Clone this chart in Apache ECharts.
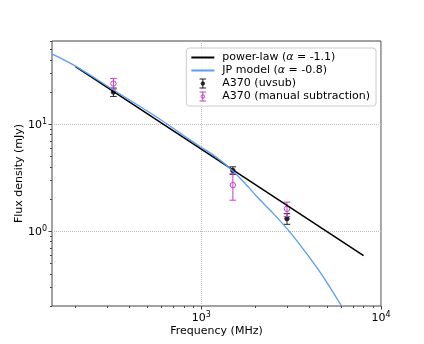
<!DOCTYPE html>
<html>
<head>
<meta charset="utf-8">
<script src="https://cdn.jsdelivr.net/npm/echarts@6/dist/echarts.min.js"></script>
<style>
html, body { margin: 0; padding: 0; background: #fff; }
#chart { width: 424px; height: 344px; }
</style>
</head>
<body>
<div id="chart"></div>
<script>
// measured points (MHz, mJy)
var freq = [325, 1500, 3000];
var uvsubFlux = [20.0, 3.7, 1.31];
var uvsubErr = [1.8, 0.3, 0.15];
var manualFlux = [24.0, 2.7, 1.62];
var manualErr = [2.7, 0.75, 0.25];

// fitted power law
var powerLawFreq = [200, 8000];
var powerLawFlux = [34.5, 0.59];

// JP model curve
var jpFreq = [148, 199, 324, 519, 643, 794, 984, 1218, 1506, 1865, 2032, 2512, 3043, 3851, 4763, 6030];
var jpFlux = [45.5, 35.1, 21.0, 12.8, 10.1, 7.9, 6.2, 4.9, 3.63, 2.5, 2.12, 1.47, 1.03, 0.62, 0.376, 0.2];

var xMajor = [1000, 10000];
var xMinor = [200, 300, 400, 500, 600, 700, 800, 900, 2000, 3000, 4000, 5000, 6000, 7000, 8000, 9000];
var yMajor = [1, 10];
var yMinor = [0.2, 0.3, 0.4, 0.5, 0.6, 0.7, 0.8, 0.9, 2, 3, 4, 5, 6, 7, 8, 9, 20, 30, 40, 50, 60];

var plName = 'power-law (α = -1.1)';
var jpName = 'JP model (α = -0.8)';
var uvName = 'A370 (uvsub)';
var manName = 'A370 (manual subtraction)';

var FONT = 'DejaVu Sans';
var MAGENTA = '#c83cc8';
var BLUE = '#5b9cf5';
var AXIS = '#444';

function zip(a, b) {
    var out = [];
    for (var i = 0; i < a.length; i++) out.push([a[i], b[i]]);
    return out;
}

function errRows(f, s, e) {
    var out = [];
    for (var i = 0; i < f.length; i++) out.push([f[i], s[i], s[i] - e[i], s[i] + e[i]]);
    return out;
}

function powLabel(v) {
    var e = Math.round(Math.log10(v));
    return '{b|10}{s|' + e + '}';
}

var supRich = {
    b: { fontSize: 11, fontFamily: FONT, color: '#000', verticalAlign: 'bottom' },
    s: { fontSize: 8, fontFamily: FONT, color: '#000', verticalAlign: 'bottom', padding: [0, 0, 5, 0] }
};

function errorBar(color, filled) {
    return function (params, api) {
        var c = api.coord([api.value(0), api.value(1)]);
        var lo = api.coord([api.value(0), api.value(2)]);
        var hi = api.coord([api.value(0), api.value(3)]);
        var cap = 3.3;
        var ls = { stroke: color, lineWidth: 1 };
        return {
            type: 'group',
            children: [
                { type: 'line', shape: { x1: c[0], y1: hi[1], x2: c[0], y2: lo[1] }, style: ls },
                { type: 'line', shape: { x1: c[0] - cap, y1: hi[1], x2: c[0] + cap, y2: hi[1] }, style: ls },
                { type: 'line', shape: { x1: c[0] - cap, y1: lo[1], x2: c[0] + cap, y2: lo[1] }, style: ls },
                { type: 'circle', shape: { cx: c[0], cy: c[1], r: filled ? 2.2 : 2.7 },
                  style: { fill: filled ? color : 'none', stroke: color, lineWidth: 1 } }
            ]
        };
    };
}

var ebIcon = 'path://M0,0M23,10M8.2,0.5H14.8M11.5,0.5V9.5M8.2,9.5H14.8M11.5,3.3A1.7,1.7,0,1,1,11.5,6.7A1.7,1.7,0,1,1,11.5,3.3';
var hidden = { color: 'rgba(0,0,0,0)', borderWidth: 0 };

var chart = echarts.init(document.getElementById('chart'), null, { renderer: 'canvas' });

chart.setOption({
    animation: false,
    grid: {
        left: 52, right: 43, top: 41, bottom: 38,
        show: true, borderColor: AXIS, borderWidth: 1, backgroundColor: 'transparent'
    },
    legend: {
        orient: 'vertical',
        right: 48, top: 48,
        itemWidth: 23, itemHeight: 10, itemGap: 2,
        padding: [4, 6, 4, 4],
        borderColor: '#ccc', borderWidth: 1, borderRadius: 3,
        backgroundColor: 'rgba(255,255,255,0.8)',
        textStyle: {
            fontSize: 11, fontFamily: FONT, color: '#000', padding: [0, 0, 0, 3],
            rich: { i: { fontSize: 11, fontFamily: FONT, color: '#000', fontStyle: 'italic' } }
        },
        formatter: function (name) { return name.replace('α', '{i|α}'); },
        data: [
            { name: plName, itemStyle: hidden },
            { name: jpName, itemStyle: hidden },
            { name: uvName, icon: ebIcon, itemStyle: { color: '#222', borderColor: '#222', borderWidth: 1 } },
            { name: manName, icon: ebIcon, itemStyle: { color: 'rgba(0,0,0,0)', borderColor: MAGENTA, borderWidth: 1 } }
        ]
    },
    xAxis: [{
        type: 'log', logBase: 10, min: 148, max: 10000, position: 'bottom',
        axisLine: { show: false },
        axisTick: { show: true, length: 3.5, customValues: xMajor, lineStyle: { color: AXIS } },
        axisLabel: { customValues: xMajor, formatter: powLabel, rich: supRich, margin: 5 },
        splitLine: { show: true, lineStyle: { type: 'dotted', color: '#bbb', width: 1 } },
        name: 'Frequency (MHz)', nameLocation: 'middle', nameGap: 20, nameMoveOverlap: false,
        nameTextStyle: { fontSize: 11, fontFamily: FONT, color: '#000', verticalAlign: 'top' }
    }, {
        type: 'log', logBase: 10, min: 148, max: 10000, position: 'bottom',
        axisLine: { show: false },
        axisTick: { show: true, length: 2, customValues: xMinor, lineStyle: { color: AXIS } },
        axisLabel: { show: false },
        splitLine: { show: false }
    }],
    yAxis: [{
        type: 'log', logBase: 10, min: 0.2, max: 60, position: 'left',
        axisLine: { show: false },
        axisTick: { show: true, length: 3.5, customValues: yMajor, lineStyle: { color: AXIS } },
        axisLabel: { customValues: yMajor, formatter: powLabel, rich: supRich, margin: 5 },
        splitLine: { show: true, lineStyle: { type: 'dotted', color: '#bbb', width: 1 } },
        name: 'Flux density (mJy)', nameLocation: 'middle', nameGap: 27, nameMoveOverlap: false,
        nameTextStyle: { fontSize: 11, fontFamily: FONT, color: '#000' }
    }, {
        type: 'log', logBase: 10, min: 0.2, max: 60, position: 'left',
        axisLine: { show: false },
        axisTick: { show: true, length: 2, customValues: yMinor, lineStyle: { color: AXIS } },
        axisLabel: { show: false },
        splitLine: { show: false }
    }],
    series: [{
        name: plName, type: 'line', xAxisIndex: 0, yAxisIndex: 0,
        data: zip(powerLawFreq, powerLawFlux),
        symbol: 'none', lineStyle: { color: '#000', width: 1.5 }, itemStyle: { color: '#000' }
    }, {
        name: jpName, type: 'line', xAxisIndex: 0, yAxisIndex: 0,
        data: zip(jpFreq, jpFlux), smooth: 0.3,
        symbol: 'none', lineStyle: { color: BLUE, width: 1.3 }, itemStyle: { color: BLUE }
    }, {
        name: uvName, type: 'custom', xAxisIndex: 0, yAxisIndex: 0,
        data: errRows(freq, uvsubFlux, uvsubErr),
        encode: { x: 0, y: 1 },
        itemStyle: { color: '#222' },
        renderItem: errorBar('#222', true)
    }, {
        name: manName, type: 'custom', xAxisIndex: 0, yAxisIndex: 0,
        data: errRows(freq, manualFlux, manualErr),
        encode: { x: 0, y: 1 },
        itemStyle: { color: MAGENTA },
        renderItem: errorBar(MAGENTA, false)
    }]
});
</script>
</body>
</html>
